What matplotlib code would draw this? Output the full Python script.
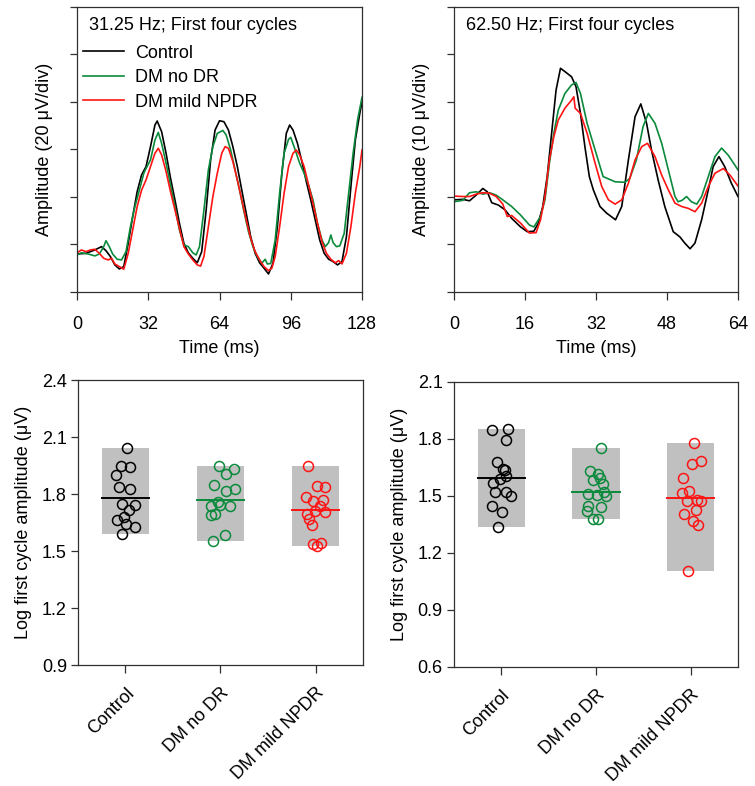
import matplotlib
matplotlib.use("Agg")
import matplotlib.pyplot as plt
import numpy as np

plt.rcParams["font.family"] = ["Liberation Sans", "DejaVu Sans"]
plt.rcParams["font.size"] = 13

GROUPS = ["Control", "DM no DR", "DM mild NPDR"]
COLORS = ["black", "#0b8a3c", "#ff1414"]

# ---- 31.25 Hz waveforms (ms, uV; 20 uV per division) ----
t31_ctrl = [0, 4, 8, 11, 13, 15, 17, 19, 21, 23, 25, 27, 29, 31, 33, 35, 36, 38, 40, 42,
            44, 46, 48, 50, 52, 54, 56, 58, 60, 62, 64,
            66, 68, 70, 72, 74, 76, 78, 80, 82, 84, 86, 88, 90, 92, 94, 95.5, 97, 99, 101,
            103, 105, 107, 109, 111, 113, 115, 117, 119, 121, 123, 125, 127, 128]
v31_ctrl = [16, 16.3, 17.7, 19.1, 17.4, 14.9, 11.4, 9.7, 10.7, 20.5, 31.7, 42.2, 49.3, 52.8,
            61.2, 70.3, 72, 67.5, 58.4, 47.9, 38.7, 28.9, 20.5, 16.5, 14.2, 12.3, 17, 34.5,
            55.6, 68.2, 72.1,
            71.7, 68.2, 61.2, 52.8, 42.9, 33.1, 23.3, 16.3, 12.3, 10, 7.6, 12.1, 27.5, 50,
            66.8, 70.3, 68.2, 62.6, 54.9, 46.4, 38.7, 30.3, 21.9, 16.3, 13.8, 12.8, 11.4,
            12.8, 23.3, 44.3, 64, 75.2, 80]

t31_nodr = [0, 2, 5, 8, 10, 12, 13, 14.5, 16, 18, 20, 22, 24, 26, 28, 30, 31, 33, 35, 36.5,
            38, 40, 42, 44, 46, 48, 50, 52, 53.5, 55, 57, 59, 61, 63,
            65.5, 67, 69, 71, 73, 75, 77, 79, 81, 83, 84.5, 85.5, 87, 89, 91, 93, 95, 96,
            98, 100, 102, 104, 106, 108, 110, 111.5, 113, 114, 115, 116.5, 118, 120, 122,
            124, 126, 128]
v31_nodr = [15.6, 16.5, 16, 15.2, 16, 19.1, 21.6, 19.1, 16, 13.8, 13.5, 17, 27.5, 35.9, 42.9,
            50, 52, 55.6, 64, 67.2, 62.6, 54.2, 45, 35.9, 26.1, 19.8, 19.1, 16.5, 15.6, 19.1,
            34.5, 51.4, 61.2, 66.8,
            68, 66.1, 59.8, 51.4, 42.9, 33.8, 25.4, 19.1, 14.9, 12.1, 13.8, 11.8, 12, 21.9,
            41.6, 58.4, 64.3, 65.1, 59.8, 54.2, 50, 45, 38.7, 28.9, 21.9, 19.1, 20.8, 24,
            20.8, 19.1, 19.4, 24.7, 41.6, 58.4, 72.4, 82]

t31_npdr = [0, 2, 4, 6, 8, 10, 12, 14, 15.5, 17, 19, 21, 23, 25, 27, 29, 31, 33, 35, 36.5,
            38, 40, 42, 44, 46, 48, 50, 52, 54, 55.5, 57, 59, 61, 63,
            65, 66.5, 68, 70, 72, 74, 76, 78, 80, 82, 84, 86, 87.5, 89, 91, 93, 95, 97,
            98.5, 100, 102, 104, 106, 108, 110, 112, 114, 116, 117.5, 119, 121, 123, 125,
            127, 128]
v31_npdr = [16.5, 17.7, 17, 17.7, 18, 16.3, 14.2, 13.5, 14.2, 11.8, 10.7, 9.6, 16.3, 26.1,
            35.9, 42.9, 47.2, 52.8, 58.4, 60.5, 57.7, 50.7, 42.2, 34.5, 26.8, 19.1, 16, 13.5,
            11.4, 10.9, 14.9, 27.5, 40.1, 50,
            58.4, 61.2, 60.5, 54.9, 47.2, 38.7, 30.3, 22.6, 17, 13.5, 10.7, 9, 10, 14.9,
            27.5, 41.6, 52.8, 58.4, 59.8, 57.7, 52.8, 45, 37.3, 28.9, 21.2, 16.3, 13.8, 12.3,
            13.2, 11.8, 16.3, 27.5, 41.6, 52.8, 59.8]

# ---- 62.50 Hz waveforms (ms, uV; 10 uV per division) ----
t62_ctrl = [0, 2, 3.5, 5, 6.5, 7.5, 8.5, 10, 11.5, 13, 15, 16.5, 18, 19, 20, 21, 22, 23, 24,
            25, 26.5, 27.5, 28.5, 29.5, 30.5, 31.4, 32.9, 34.4, 36.4, 37.8, 39.3, 40.8, 42.1,
            43.4, 44.5, 46, 47.5, 49.4, 50.9, 52, 53.2, 54.3, 55.8, 57.3, 58.4, 59.7, 61,
            62.5, 64]
v62_ctrl = [-0.6, -0.5, -0.8, 0.4, 1.8, 1.1, -1.2, -1.7, -2.7, -4.5, -6.3, -7.3, -7.2, -5.5,
            -2, 4.3, 13.4, 22.5, 27.1, 26.4, 25.3, 23.2, 17.6, 10.6, 4.3, 1.5, -2, -3.4, -4.8,
            -2, 7.8, 16.9, 19.6, 15.5, 9.9, 3.6, -2, -7.3, -8.4, -9.7, -10.9, -9.7, -4.8,
            1.5, 6.4, 8.5, 6.4, 2.9, 0.1]

t62_nodr = [0, 2, 3.5, 5, 6.5, 8, 9.5, 11, 13, 15, 17, 18, 19.5, 20.5, 21.5, 22.5, 23.5, 25,
            26.5, 27.5, 28.5, 30, 31.8, 33.6, 36.3, 38.5, 39.6, 41.1, 42.6, 43.8, 45.3, 46.8,
            48.3, 49.8, 50.5, 51.4, 52.4, 53.5, 54.7, 55.8, 57.3, 58.8, 60.3, 61.8, 63.3, 64]
v62_nodr = [-1, -0.7, 0.9, 1.1, 0.6, 0.9, 0.4, -0.6, -2, -3.8, -5.9, -6.3, -4.1, -0.6, 7.1,
            13.4, 18.3, 21.8, 23.6, 24.1, 21.8, 15.5, 9.9, 4.3, 3.2, 3.1, 3.9, 7.8, 14.8,
            17.6, 15.5, 11.3, 5.7, 0.1, -1, -0.7, 0.1, -1, -1.5, 0.1, 4.3, 8.5, 10.3, 8.8,
            6.7, 5.7]

t62_npdr = [0, 2, 3.5, 5, 6.5, 8, 9.5, 11, 12, 13, 15, 17, 18.5, 19.5, 20.5, 21.5, 22.5, 23.5,
            25, 26.5, 27, 27.3, 28.5, 30, 31.8, 33.3, 34.8, 36.3, 37.8, 39.3, 40.8, 42.3,
            43.6, 45.3, 46.8, 48.3, 49.8, 51.3, 52.8, 54.3, 55.8, 57.3, 58.8, 60.7, 62.2, 64]
v62_npdr = [0.2, 0.1, 0.1, 0.6, 0.9, 0.8, 0.1, -1.5, -4.1, -3.9, -5.5, -7.6, -7.5, -4.8, 0.1,
            7.8, 12.7, 16.2, 18.7, 20.4, 21.1, 18.7, 17.6, 13.4, 7.1, 2.2, -0.6, -1.5, -0.6,
            2.9, 7.8, 10.6, 11.3, 8.5, 4.6, 1.5, -1.3, -2, -2.4, -3.1, -1.3, 2.2, 5, 6, 4.6,
            2.3]

# ---- log first cycle amplitude, individual subjects ----
amp31_ctrl = [2.042, 1.945, 1.944, 1.902, 1.837, 1.826, 1.747, 1.742, 1.714, 1.665, 1.677,
              1.644, 1.628, 1.591]
jit31_ctrl = [0.018, -0.052, 0.044, -0.096, -0.069, 0.048, -0.038, 0.096, 0.034, -0.093,
              -0.018, 0.010, 0.096, -0.034]
amp31_nodr = [1.949, 1.932, 1.905, 1.845, 1.817, 1.828, 1.756, 1.735, 1.742, 1.738, 1.693,
              1.689, 1.587, 1.551]
jit31_nodr = [-0.019, 0.146, 0.054, -0.064, 0.054, 0.149, -0.026, -0.101, -0.002, 0.098,
              -0.054, -0.098, 0.050, -0.074]
amp31_npdr = [1.945, 1.840, 1.837, 1.784, 1.763, 1.770, 1.735, 1.712, 1.707, 1.696, 1.668,
              1.635, 1.537, 1.528, 1.544]
jit31_npdr = [-0.077, 0.012, 0.101, -0.098, -0.023, 0.074, 0.046, -0.002, 0.101, -0.085,
              -0.064, -0.036, -0.029, 0.019, 0.060]

amp62_ctrl = [1.845, 1.851, 1.796, 1.681, 1.642, 1.635, 1.603, 1.589, 1.566, 1.521, 1.519,
              1.502, 1.447, 1.414, 1.337]
jit62_ctrl = [-0.101, 0.067, 0.049, -0.042, 0.021, 0.042, 0.049, -0.014, -0.084, -0.063,
              0.049, 0.099, -0.098, 0.007, -0.035]
amp62_nodr = [1.754, 1.630, 1.617, 1.582, 1.593, 1.565, 1.512, 1.507, 1.519, 1.498, 1.449,
              1.440, 1.419, 1.379, 1.379]
jit62_nodr = [0.049, -0.060, 0.018, -0.028, 0.042, 0.070, -0.084, 0.007, 0.084, 0.102,
              -0.084, 0.049, -0.098, -0.028, 0.024]
amp62_npdr = [1.777, 1.670, 1.682, 1.596, 1.516, 1.528, 1.472, 1.477, 1.472, 1.426, 1.403,
              1.366, 1.347, 1.103]
jit62_npdr = [0.038, 0.014, 0.105, -0.078, -0.095, -0.015, -0.042, 0.063, 0.105, 0.053,
              -0.067, 0.021, 0.074, -0.028]

SPINE = "#303030"


def style_axes(ax, xpad=3):
    for sp in ax.spines.values():
        sp.set_color(SPINE)
        sp.set_linewidth(0.9)
    ax.tick_params(direction="out", length=5, width=0.9, color=SPINE, pad=3)
    ax.tick_params(axis="x", length=6, pad=xpad)


def draw_waveforms(ax, traces, xmax, ylim, ystep, title, ylabel, legend=False):
    for (t, v), color, name in zip(traces, COLORS, GROUPS):
        ax.plot(t, v, color=color, lw=1.2, label=name)

    ax.set_xlim(0, xmax)
    ax.set_ylim(*ylim)
    ax.set_xticks(np.linspace(0, xmax, 5))
    ax.set_yticks(np.arange(ylim[0], ylim[1] + 0.1, ystep))
    ax.set_yticklabels([])
    ax.set_xlabel("Time (ms)", labelpad=5)
    ax.set_ylabel(ylabel, labelpad=9)
    ax.text(0.043, 0.935, title, transform=ax.transAxes, va="center", ha="left")
    style_axes(ax, xpad=11)

    if legend:
        ax.legend(
            loc="upper left",
            bbox_to_anchor=(0.02, 0.868),
            frameon=False,
            borderpad=0,
            borderaxespad=0,
            handlelength=2.3,
            handletextpad=0.6,
            labelspacing=0.42,
        )


def draw_amplitudes(ax, groups, ylim, ylabel_ticks):
    for i, ((amp, jit), color) in enumerate(zip(groups, COLORS)):
        x0 = i + 1
        amp = np.asarray(amp)
        ax.bar(x0, amp.max() - amp.min(), bottom=amp.min(), width=0.5,
               color="#c0c0c0", zorder=1)
        ax.plot([x0 - 0.25, x0 + 0.25], [amp.mean()] * 2, color=color, lw=1.4, zorder=2)
        ax.plot(x0 + np.asarray(jit), amp, linestyle="none", marker="o", markersize=7.2,
                markerfacecolor="none", markeredgecolor=color, markeredgewidth=1.1, zorder=3)

    ax.set_xlim(0.5, 3.5)
    ax.set_ylim(*ylim)
    ax.set_yticks(ylabel_ticks)
    ax.set_yticklabels([f"{v:.1f}" for v in ylabel_ticks])
    ax.set_xticks([1, 2, 3])
    ax.set_xticklabels(GROUPS, rotation=45, ha="right", rotation_mode="anchor")
    ax.set_ylabel("Log first cycle amplitude (\u03bcV)", labelpad=7)
    style_axes(ax, xpad=8)


def main():
    fig = plt.figure(figsize=(7.55, 7.86), dpi=100)

    ax_tl = fig.add_axes([0.102, 0.6285, 0.3775, 0.3626])
    ax_tr = fig.add_axes([0.6013, 0.6285, 0.3762, 0.3626])
    ax_bl = fig.add_axes([0.1033, 0.1539, 0.3775, 0.3626])
    ax_br = fig.add_axes([0.6013, 0.1514, 0.3762, 0.3626])

    draw_waveforms(
        ax_tl,
        [(t31_ctrl, v31_ctrl), (t31_nodr, v31_nodr), (t31_npdr, v31_npdr)],
        128, (0, 120), 20,
        "31.25 Hz; First four cycles",
        "Amplitude (20 \u03bcV/div)",
        legend=True,
    )
    draw_waveforms(
        ax_tr,
        [(t62_ctrl, v62_ctrl), (t62_nodr, v62_nodr), (t62_npdr, v62_npdr)],
        64, (-20, 40), 10,
        "62.50 Hz; First four cycles",
        "Amplitude (10 \u03bcV/div)",
    )

    draw_amplitudes(
        ax_bl,
        [(amp31_ctrl, jit31_ctrl), (amp31_nodr, jit31_nodr), (amp31_npdr, jit31_npdr)],
        (0.9, 2.4),
        [0.9, 1.2, 1.5, 1.8, 2.1, 2.4],
    )
    draw_amplitudes(
        ax_br,
        [(amp62_ctrl, jit62_ctrl), (amp62_nodr, jit62_nodr), (amp62_npdr, jit62_npdr)],
        (0.6, 2.1),
        [0.6, 0.9, 1.2, 1.5, 1.8, 2.1],
    )

    fig.savefig("out.png", dpi=100)


if __name__ == "__main__":
    main()
